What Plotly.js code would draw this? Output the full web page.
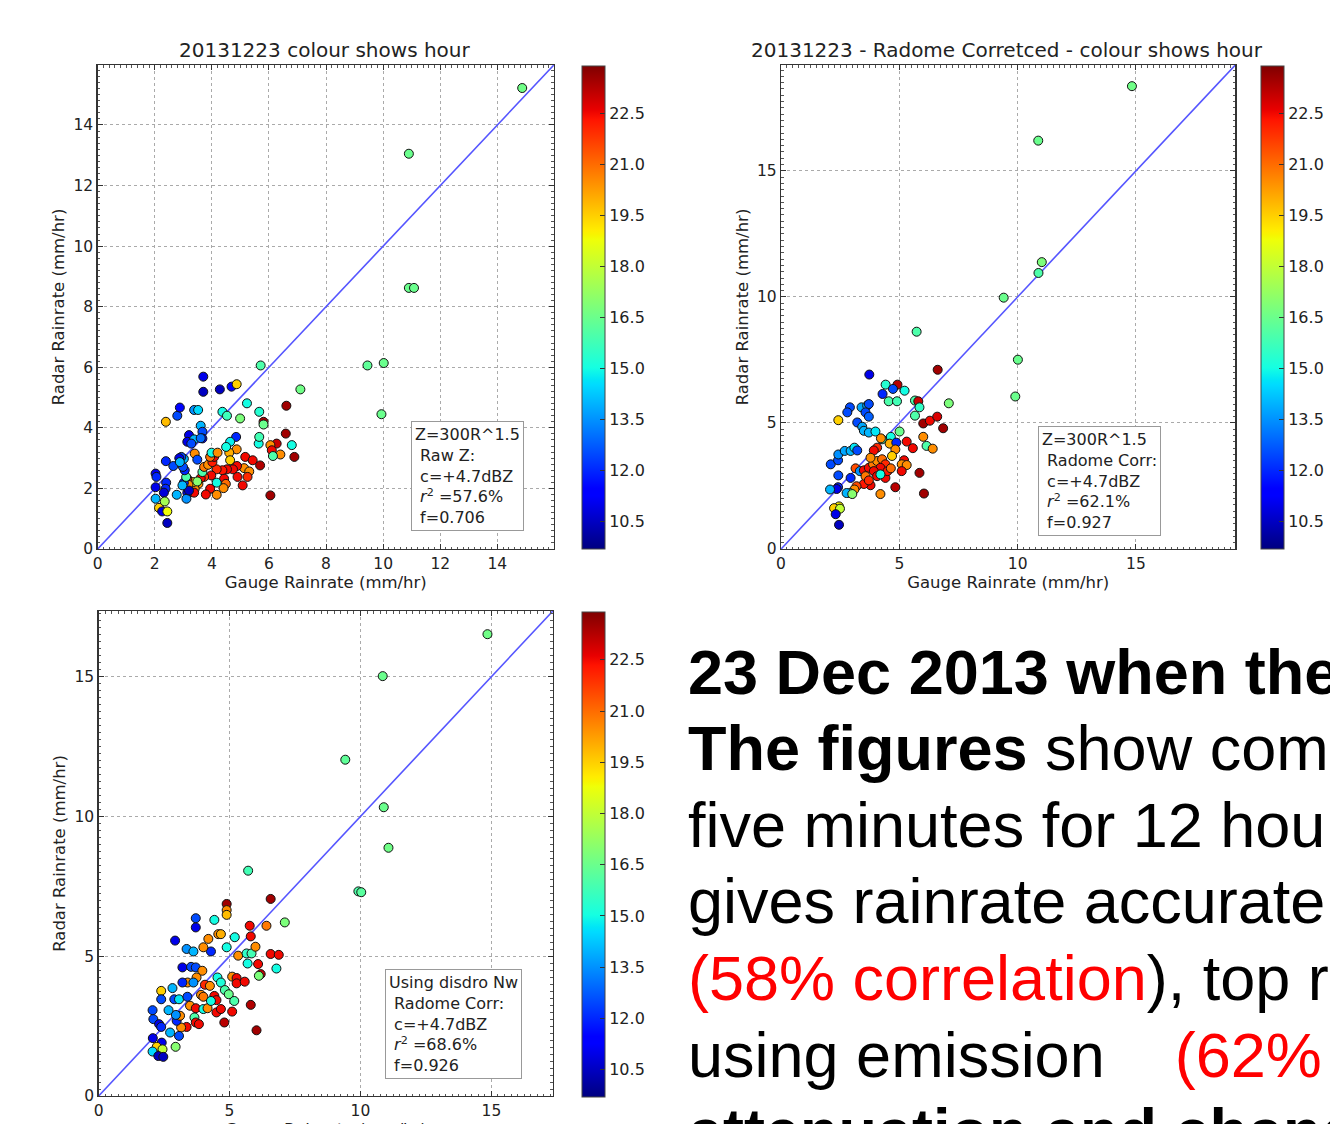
<!DOCTYPE html>
<html>
<head>
<meta charset="utf-8">
<script src="https://cdn.plot.ly/plotly-3.0.1.min.js"></script>
<style>
html,body{margin:0;padding:0;background:#fff;overflow:hidden;width:1330px;height:1124px;}
#chart{width:1330px;height:1160px;}
</style>
</head>
<body>
<div id="chart"></div>
<script>
// ---------- DATA ----------
// Panel 1: raw Z
const p1Gauge = [14.87,10.90,10.90,11.08,9.45,10.02,9.94,5.71,7.10,
 3.70,3.70,4.28,4.69,4.87,2.39,2.79,2.88,3.38,3.52,3.61,3.67,3.67,4.37,4.53,5.23,4.99,5.66,5.81,5.81,
 6.61,6.59,6.80,6.89,6.40,6.27,6.05,6.10,6.14,5.64,5.66,6.05,4.85,4.64,4.87,4.61,4.50,4.64,5.17,5.43,
 5.69,5.13,5.31,4.88,4.74,4.90,5.25,5.08,4.53,4.37,4.17,4.43,4.49,4.41,4.17,4.17,3.94,3.79,3.98,3.73,
 3.61,3.67,3.73,3.87,4.02,4.08,3.94,3.99,4.20,3.40,3.49,3.53,3.40,3.35,3.49,3.14,3.18,3.26,3.38,3.14,
 3.11,3.20,3.02,2.97,3.10,3.05,2.99,3.02,2.93,2.86,2.65,2.39,2.88,2.77,2.40,2.38,2.32,2.03,2.06,2.03,
 2.03,2.15,2.35,2.26,2.44,2.44,3.20,3.14,3.38,3.28,3.61];
const p1Radar = [15.22,13.05,8.62,8.62,6.06,6.14,4.45,6.06,5.27,
 5.69,5.19,5.27,5.36,5.44,4.20,4.40,4.67,4.59,4.59,4.07,3.87,3.65,4.53,4.40,4.81,4.31,4.53,4.20,4.11,
 4.73,3.81,3.43,3.04,3.12,3.48,3.43,3.26,3.07,3.48,3.70,1.77,3.70,3.54,3.29,3.18,3.37,2.93,3.04,2.93,
 2.76,2.67,2.56,2.74,2.63,2.38,2.38,2.10,2.63,2.60,2.63,2.32,2.15,2.01,1.79,2.19,1.99,1.80,2.43,2.38,
 2.34,2.54,2.71,2.78,2.87,3.04,3.04,3.18,3.18,3.15,2.95,2.15,1.99,2.21,2.23,2.32,2.12,1.88,1.86,1.86,
 1.66,1.93,2.19,2.10,2.38,2.60,2.71,2.98,3.04,3.00,2.74,2.90,2.87,1.79,2.19,1.99,1.86,2.49,2.38,2.04,
 1.66,1.36,1.57,1.24,1.24,0.86,3.76,3.54,3.62,3.48,3.66];
const p1Hour = [16.6,16.5,16.5,16.5,16.3,16.5,16.5,16.0,16.6,
 11,10.5,10.5,11.5,19.5,19.8,12.5,11.5,13.5,14.5,14,12.5,11.5,15,15.7,15,16.8,15.3,23.5,16.5,
 23.5,23.5,15,23.5,20.5,23,20.5,22.5,16,15,15.8,23.5,12,14.8,20.5,20,15,19.5,22.5,22.5,
 23.3,20.5,20.5,22.5,22.5,22.5,22,22.5,22.5,22.3,22,22.5,21,20.5,20.5,15,22.5,22.5,22.5,21.8,
 22.5,16,20.8,20.5,22.2,22.5,21,15,20.5,20.5,12.5,20.5,20.5,19.5,17,22.5,20.5,22.5,22.5,11,
 13.5,10.5,12,14,16,12,12.5,14,12.5,11,12.5,12,14,14,12,12,10.8,11,12,11,
 14,19.5,17.5,11,18.8,10.5,11,11,14,12.5,13];

// Panel 2: radome corrected
const p2Gauge = [14.83,10.87,11.02,10.88,9.41,5.73,10.01,9.90,7.09,6.62,
 3.73,4.42,4.92,4.73,5.22,4.29,4.55,4.90,5.66,5.80,5.85,5.66,6.01,6.29,6.60,6.85,
 2.91,2.80,3.40,3.64,3.71,3.57,3.71,2.42,3.22,3.43,3.50,3.71,3.99,4.27,5.01,4.64,4.22,4.59,4.87,
 5.31,5.57,6.01,6.15,6.41,4.06,3.92,4.83,4.69,5.20,5.10,5.31,5.10,5.85,6.04,4.83,4.20,3.78,3.50,
 3.19,3.10,2.91,2.77,3.01,2.41,2.35,2.07,2.10,2.41,2.42,2.69,2.94,3.10,3.22,2.42,2.94,3.15,3.33,
 3.50,3.71,3.89,4.06,4.27,4.41,4.20,3.92,4.06,4.41,4.50,4.64,4.20,3.78,3.57,3.71,2.45,2.24,2.49,
 2.31,2.45];
const p2Radar = [18.36,16.20,11.38,10.95,9.97,8.62,7.51,6.05,5.78,7.11,
 6.92,6.52,6.52,6.35,6.28,6.15,5.86,5.86,5.89,5.86,5.62,5.29,4.98,5.09,5.25,4.79,
 5.62,5.42,5.62,5.69,5.75,5.42,5.25,5.11,5.02,4.85,4.69,4.62,4.66,4.35,4.66,4.45,4.39,4.18,4.22,
 4.26,4.00,4.45,4.09,3.98,4.02,3.91,3.95,3.69,3.52,3.36,3.33,3.09,3.02,2.20,2.45,2.18,2.53,2.58,
 2.49,2.36,2.22,2.22,2.18,2.45,2.38,2.36,3.36,3.52,3.75,3.89,3.89,4.02,3.91,2.92,2.82,3.20,3.09,
 3.12,3.22,3.36,3.49,3.56,3.36,3.22,3.09,2.89,2.82,3.09,3.20,2.96,3.62,2.89,2.72,1.69,1.62,1.60,
 1.38,0.96];
const p2Hour = [16.6,16.5,16.8,16.0,16.5,16.0,16.5,16.5,16.8,23.5,
 11,15.3,23.2,12.5,15,12,16,15.8,16,23,15.5,16,23.5,22.5,22.8,23.5,
 12.5,12.5,13.8,14,12.5,12.5,12.8,19.5,12.5,13.8,14,14,14.7,16,16.5,15,20.5,20,12,
 22.5,22.5,20.5,16,20.5,22,22.5,20.5,19.5,22.5,20.5,20.5,22.5,23.5,23.5,23.2,20.5,22.5,22.3,
 21.5,20.5,16,14,17,12,11,14,12.5,12.5,13.5,13.8,14,14.7,12.5,12.5,12,21.5,13.5,
 22.5,22.5,20.8,20.5,21,22,22.5,22.5,22.5,22.5,22.3,21,15,20.5,20.8,22,19,19.5,18,
 11,10.5];

// Panel 3: disdrometer Nw, radome corrected
const p3Gauge = [14.85,10.85,9.42,10.89,11.07,9.92,10.03,5.71,7.11,
 6.57,4.89,4.89,4.89,3.71,3.71,4.42,5.77,6.41,2.92,4.57,4.67,4.19,5.20,5.81,4.89,4.29,4.00,3.36,3.62,
 5.33,5.65,5.84,5.99,6.57,6.88,6.79,5.69,6.09,6.19,6.12,3.20,3.53,3.71,3.96,3.74,3.40,3.20,3.62,
 4.54,4.67,5.10,5.27,5.27,5.58,4.06,4.25,2.39,2.82,2.39,2.89,3.07,3.39,3.91,4.00,4.42,4.50,4.82,
 4.97,5.18,3.49,3.71,4.00,4.16,4.29,4.50,4.67,5.10,5.81,6.03,4.80,3.66,3.71,3.83,3.36,3.15,2.98,
 3.11,2.95,2.67,2.06,2.09,2.31,2.39,2.73,3.07,2.94,2.07,2.41,2.22,2.44,2.06,2.28,2.47];
const p3Radar = [16.52,15.02,12.03,10.33,8.88,7.32,7.29,8.06,6.21,
 7.05,6.87,6.65,6.48,6.36,6.03,6.30,6.09,6.09,5.56,5.79,5.79,5.62,5.68,5.71,5.32,5.17,5.32,5.26,5.17,
 5.02,5.10,5.10,5.34,5.08,5.05,4.56,4.74,4.72,4.36,4.30,4.60,4.62,4.60,4.48,4.24,4.06,4.06,4.06,
 4.24,4.06,4.27,4.22,4.03,4.09,3.98,3.94,3.76,3.86,3.46,3.46,3.46,3.55,3.62,3.55,3.58,3.43,3.79,
 3.64,3.40,3.23,3.14,3.11,3.14,3.40,2.99,3.11,3.02,3.26,2.35,2.63,2.81,2.63,2.57,2.47,2.45,2.69,
 2.87,2.90,3.07,3.07,2.75,2.57,2.47,2.27,2.15,1.76,2.07,1.91,1.76,1.67,1.59,1.43,1.40];
const p3Hour = [16.6,16.5,16.3,16.5,16.6,16.0,16.2,15.8,16.8,
 23.5,23.5,20.5,19.8,12.5,11,15,22.5,20.8,11,20.5,20,20.5,15,22.5,15,12,20.5,13.5,14,
 20.5,15.5,15.8,20.5,22.5,22.5,15,15,22.5,23,16.8,11,12.5,12.5,20.5,20.5,20.5,12,13.5,
 15,15.2,20.5,22.5,22.5,22.5,22,20.5,19.5,14,12.5,12.5,14.7,12.5,20.5,20.8,22.5,22.5,16,
 16.5,16,20.5,22.5,15,20.5,15,22.5,22.5,22.5,23.3,23.5,23.2,16,22.5,22.5,22.5,20.5,12,
 20.5,13.5,14,12.5,12.5,11,12,14,12.5,17,11,11,19.5,18,14.5,10.5,10.5];

const oneToOne = [0, 20];
const cbTicks = [10.5, 12.0, 13.5, 15.0, 16.5, 18.0, 19.5, 21.0, 22.5];
const hourMin = 9.7, hourMax = 23.9;

const titles = ['20131223 colour shows hour', '20131223 - Radome Corretced - colour shows hour'];
const boxTexts = [
  ['Z=300R^1.5', '&nbsp;Raw Z:', '&nbsp;c=+4.7dBZ', '&nbsp;<i>r</i><sup>2</sup> =57.6%', '&nbsp;f=0.706'],
  ['Z=300R^1.5', '&nbsp;Radome Corr:', '&nbsp;c=+4.7dBZ', '&nbsp;<i>r</i><sup>2</sup> =62.1%', '&nbsp;f=0.927'],
  ['Using disdro Nw', '&nbsp;Radome Corr:', '&nbsp;c=+4.7dBZ', '&nbsp;<i>r</i><sup>2</sup> =68.6%', '&nbsp;f=0.926']
];
const bodyLines = [
  '<b>23 Dec 2013 when the</b>',
  '<b>The figures</b> show com',
  'five minutes for 12 hou',
  'gives rainrate accurate',
  '<span style="color:#ff0000">(58% correlation</span>), top r',
  'using emission&nbsp;&nbsp;&nbsp;&nbsp;<span style="color:#ff0000">(62%</span>',
  '<b>attenuation and chang</b>'
];

// ---------- STYLE ----------
const W = 1330, H = 1160;
const px = v => v / W;
const py = v => 1 - v / H;
const jet = [
  [0,'rgb(0,0,128)'],[0.11,'rgb(0,0,255)'],[0.125,'rgb(0,0,255)'],[0.34,'rgb(0,219,255)'],
  [0.35,'rgb(0,229,247)'],[0.375,'rgb(21,255,226)'],[0.64,'rgb(239,255,8)'],[0.65,'rgb(247,245,0)'],
  [0.66,'rgb(255,236,0)'],[0.89,'rgb(255,19,0)'],[0.91,'rgb(232,0,0)'],[1,'rgb(128,0,0)']
];
const FONT = 'DejaVu Sans, sans-serif';
const TXT = '#222';

function scatter(g, r, h, xa, ya, cbx, cby, cblen) {
  return {
    type: 'scatter', mode: 'markers', x: g, y: r, xaxis: xa, yaxis: ya,
    hoverinfo: 'x+y',
    marker: {
      size: 9, color: h, colorscale: jet, cmin: hourMin, cmax: hourMax,
      line: {color: '#111', width: 1},
      colorbar: {
        x: cbx, xanchor: 'left', y: cby, yanchor: 'middle', len: cblen, lenmode: 'fraction',
        thickness: 23, thicknessmode: 'pixels', xpad: 0, ypad: 0,
        outlinewidth: 1, outlinecolor: '#444',
        tickvals: cbTicks, tickformat: '.1f', ticks: 'inside', ticklen: 5, tickcolor: '#333',
        tickfont: {family: FONT, size: 16, color: TXT}
      }
    },
    showlegend: false
  };
}
function diag(xa, ya) {
  return {type: 'scatter', mode: 'lines', x: oneToOne, y: oneToOne, xaxis: xa, yaxis: ya,
    line: {color: '#5555ff', width: 1.6}, hoverinfo: 'skip', showlegend: false};
}

const traces = [
  diag('x', 'y'),
  scatter(p1Gauge, p1Radar, p1Hour, 'x', 'y', px(584), (py(66) + py(549)) / 2, (549 - 66) / H),
  diag('x2', 'y2'),
  scatter(p2Gauge, p2Radar, p2Hour, 'x2', 'y2', px(1266), (py(66) + py(549)) / 2, (549 - 66) / H),
  diag('x3', 'y3'),
  scatter(p3Gauge, p3Radar, p3Hour, 'x3', 'y3', px(584), (py(612) + py(1097)) / 2, (1097 - 612) / H)
];

function axis(dom, range, dtick, minorD, anchor, title, standoff) {
  return {
    domain: dom, range: range, dtick: dtick, tick0: 0, anchor: anchor,
    showline: true, linecolor: '#333', linewidth: 1.3, mirror: 'allticks',
    ticks: 'inside', ticklen: 5, tickcolor: '#333', tickwidth: 1,
    minor: {ticks: 'inside', ticklen: 2.5, dtick: minorD, tickcolor: '#555', showgrid: false},
    showgrid: true, gridcolor: '#aaa', griddash: 'dot', gridwidth: 1, zeroline: false,
    tickfont: {family: FONT, size: 15.5, color: TXT},
    title: {text: title, font: {family: FONT, size: 16.5, color: TXT}, standoff: standoff},
    fixedrange: true
  };
}

const XT = 'Gauge Rainrate (mm/hr)', YT = 'Radar Rainrate (mm/hr)';
const layout = {
  width: W, height: H, margin: {l: 0, r: 0, t: 0, b: 0},
  paper_bgcolor: '#fff', plot_bgcolor: '#fff',
  font: {family: FONT, color: TXT},
  xaxis:  axis([px(98), px(556)], [0, 15.98], 2, 0.2, 'y', XT, 2),
  yaxis:  axis([py(549), py(65)], [0, 15.98], 2, 0.2, 'x', YT, 4),
  xaxis2: axis([px(784), px(1240)], [0, 19.2], 5, 0.25, 'y2', XT, 2),
  yaxis2: axis([py(549), py(65)], [0, 19.2], 5, 0.25, 'x2', YT, 4),
  xaxis3: axis([px(99), px(555)], [0, 17.35], 5, 0.25, 'y3', XT, 2),
  yaxis3: axis([py(1096), py(611)], [0, 17.35], 5, 0.25, 'x3', YT, 4),
  annotations: []
};

// subplot titles
layout.annotations.push({text: titles[0], xref: 'paper', yref: 'paper', x: px(326), y: py(50),
  xanchor: 'center', yanchor: 'middle', showarrow: false, font: {family: FONT, size: 20, color: TXT}});
layout.annotations.push({text: titles[1], xref: 'paper', yref: 'paper', x: px(1011), y: py(50),
  xanchor: 'center', yanchor: 'middle', showarrow: false, font: {family: FONT, size: 20, color: TXT}});

// legend-like text boxes
const boxPos = [[413, 421], [1042, 426], [386, 969]];
boxTexts.forEach((lines, i) => {
  layout.annotations.push({
    text: lines.join('<br>'), xref: 'paper', yref: 'paper',
    x: px(boxPos[i][0]), y: py(boxPos[i][1]), xanchor: 'left', yanchor: 'top',
    align: 'left', showarrow: false, bgcolor: '#fff', bordercolor: '#999', borderwidth: 1, borderpad: 3,
    font: {family: FONT, size: 16, color: TXT}
  });
});

// body text on the right
const lineCenters = [672, 748, 825, 901, 978, 1055, 1131];
bodyLines.forEach((t, i) => {
  layout.annotations.push({
    text: t, xref: 'paper', yref: 'paper', x: px(689), y: py(lineCenters[i]),
    xanchor: 'left', yanchor: 'middle', align: 'left', showarrow: false,
    font: {family: 'Liberation Sans, Arial, sans-serif', size: 63, color: '#000'}
  });
});

Plotly.newPlot('chart', traces, layout, {staticPlot: true, displayModeBar: false});
</script>
</body>
</html>
